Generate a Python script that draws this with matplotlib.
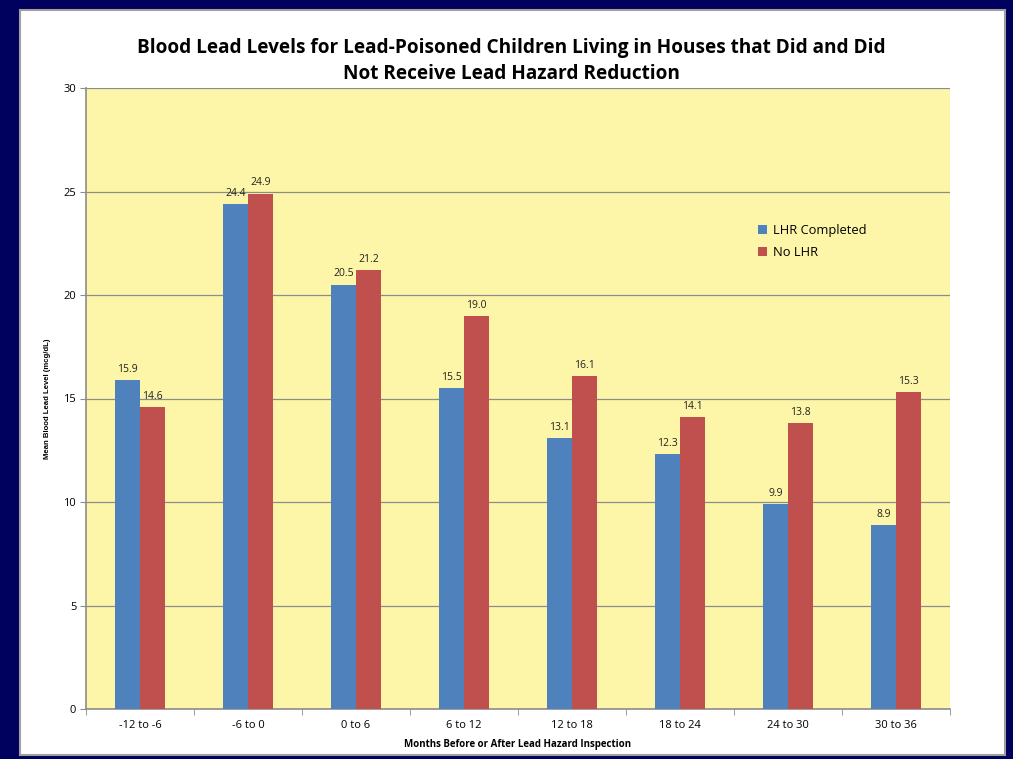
import matplotlib
matplotlib.use("Agg")
import matplotlib.pyplot as plt
from matplotlib.patches import Rectangle
import numpy as np

categories = ["-12 to -6", "-6 to 0", "0 to 6", "6 to 12", "12 to 18",
              "18 to 24", "24 to 30", "30 to 36"]
lhr_completed = [15.9, 24.4, 20.5, 15.5, 13.1, 12.3, 9.9, 8.9]
no_lhr = [14.6, 24.9, 21.2, 19.0, 16.1, 14.1, 13.8, 15.3]
y_ticks = [0, 5, 10, 15, 20, 25, 30]

BLUE = "#4F81BD"
RED = "#C0504D"
PLOT_BG = "#FDF6A8"
NAVY = "#00005E"

W, H = 1013, 759
fig = plt.figure(figsize=(W / 100, H / 100), dpi=100)
fig.patch.set_facecolor(NAVY)

# white slide panel with a thin grey edge, on a background axes
bg = fig.add_axes([0, 0, 1, 1], zorder=0)
bg.set_axis_off()
bg.set_xlim(0, W)
bg.set_ylim(H, 0)
bg.add_patch(Rectangle((20, 10), 985, 745, facecolor="white",
                       edgecolor="#A0A0A0", linewidth=1.5))

ax = fig.add_axes([86 / W, 1 - 709 / H, (950 - 86) / W, (709 - 88) / H], zorder=2)
ax.set_facecolor(PLOT_BG)

x = np.arange(len(categories))
bw = 25 / 108
ax.bar(x - bw / 2, lhr_completed, bw, color=BLUE, label="LHR Completed", zorder=3)
ax.bar(x + bw / 2, no_lhr, bw, color=RED, label="No LHR", zorder=3)

for xi, v in zip(x - bw / 2, lhr_completed):
    ax.text(xi, v + 0.25, f"{v:.1f}", ha="center", va="bottom", fontsize=7.5,
            family="Open Sans", color="#222222")
for xi, v in zip(x + bw / 2, no_lhr):
    ax.text(xi, v + 0.25, f"{v:.1f}", ha="center", va="bottom", fontsize=7.5,
            family="Open Sans", color="#222222")

ax.set_xlim(-0.5, len(categories) - 0.5)
ax.set_ylim(0, 30)
ax.set_yticks(y_ticks)
ax.set_yticklabels([str(t) for t in y_ticks], family="Open Sans", fontsize=8)
ax.yaxis.grid(True, color="#8C8C8C", linewidth=0.9, zorder=1)
ax.set_axisbelow(True)

ax.set_xticks(x)
ax.set_xticklabels(categories, family="Open Sans", fontsize=8)
ax.set_xticks(np.arange(len(categories) + 1) - 0.5, minor=True)
ax.tick_params(axis="x", which="major", length=0, pad=8)
ax.tick_params(axis="x", which="minor", length=4, color="#8C8C8C")
ax.tick_params(axis="y", length=4, color="#8C8C8C", pad=3)

for side in ["top", "right"]:
    ax.spines[side].set_visible(False)
for side in ["left", "bottom"]:
    ax.spines[side].set_color("#8C8C8C")
    ax.spines[side].set_linewidth(1.2)

ax.set_xlabel("Months Before or After Lead Hazard Inspection", family="Open Sans",
              fontweight="bold", fontsize=7, labelpad=6)
ax.set_ylabel("Mean Blood Lead Level (mcg/dL)", family="Liberation Sans",
              fontweight="bold", fontsize=5.6)
ax.yaxis.set_label_coords((51 - 86) / (950 - 86), 0.5)

fig.text(511 / W, 1 - 61 / H,
         "Blood Lead Levels for Lead-Poisoned Children Living in Houses that Did and Did\n"
         "Not Receive Lead Hazard Reduction",
         ha="center", va="center", family="Open Sans", fontweight="bold",
         fontsize=13.7, linespacing=1.45)

leg = ax.legend(loc="upper left", bbox_to_anchor=(660 / 864, 1 - 124 / 621),
                frameon=False, handlelength=0.7, handleheight=0.7,
                labelspacing=0.75, handletextpad=0.5,
                prop={"family": "Open Sans", "size": 9.3})

fig.savefig("out.png", dpi=100, facecolor=fig.get_facecolor())
